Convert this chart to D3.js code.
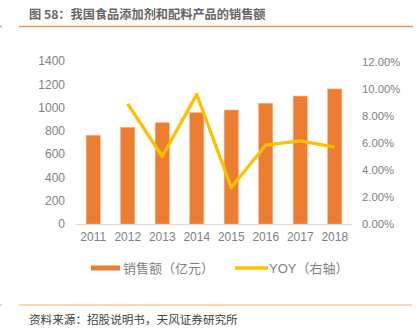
<!DOCTYPE html>
<html><head><meta charset="utf-8">
<script src="https://cdn.jsdelivr.net/npm/d3@7/dist/d3.min.js"></script>
<style>
body{margin:0;background:#fff;}
svg{display:block;font-family:"Liberation Sans","Noto Sans CJK SC",sans-serif;}
</style></head>
<body><svg id="c" width="417" height="329"></svg>
<script>
const years = ["2011","2012","2013","2014","2015","2016","2017","2018"];
const sales = [762, 830, 870, 956, 979, 1037, 1099, 1160];
const yoy = [null, 8.9, 5.0, 9.6, 2.7, 5.85, 6.15, 5.7];
const leftTicks = [0,200,400,600,800,1000,1200,1400];
const rightTicks = [0,2,4,6,8,10,12];
const titleText = "图 58：我国食品添加剂和配料产品的销售额";
const sourceText = "资料来源：招股说明书，天风证券研究所";
const legendLabels = ["销售额（亿元）","YOY（右轴）"];

const svg = d3.select("#c");
const cjk = '"Noto Sans CJK SC",sans-serif';

// header
svg.append("text").attr("x",29).attr("y",18.5).attr("font-size",12.2).attr("font-weight","bold")
  .attr("fill","#666666").attr("font-family",cjk).text(titleText);
svg.append("line").attr("x1",19).attr("x2",413).attr("y1",26.5).attr("y2",26.5)
  .attr("stroke","#E5994F").attr("stroke-width",1.5);
svg.append("line").attr("x1",0).attr("x2",2).attr("y1",26.5).attr("y2",26.5)
  .attr("stroke","#E5994F").attr("stroke-width",1.5);
// footer
svg.append("line").attr("x1",19).attr("x2",412).attr("y1",305).attr("y2",305)
  .attr("stroke","#F7C7A0").attr("stroke-width",1.5);
svg.append("line").attr("x1",0).attr("x2",2).attr("y1",305).attr("y2",305)
  .attr("stroke","#F7C7A0").attr("stroke-width",1.5);
svg.append("text").attr("x",29).attr("y",324).attr("font-size",11.6)
  .attr("fill","#404040").attr("font-family",cjk).text(sourceText);

const x = d3.scaleBand().domain(years).range([76,352]).paddingInner(0.59).paddingOuter(0.295);
const yL = d3.scaleLinear().domain([0,1400]).range([224,61]);
const yR = d3.scaleLinear().domain([0,12]).range([224,62]);

// left axis
const gl = svg.append("g").attr("transform","translate(68,0)")
  .call(d3.axisLeft(yL).tickValues(leftTicks).tickSize(0).tickPadding(3).tickFormat(d3.format("d")));
gl.select(".domain").remove();
gl.selectAll("text").attr("font-size",12).attr("fill","#7F7F7F").attr("font-family",'"Liberation Sans",sans-serif');

// right axis
const gr = svg.append("g").attr("transform","translate(359,0)")
  .call(d3.axisRight(yR).tickValues(rightTicks).tickSize(0).tickPadding(3).tickFormat(d=>d.toFixed(2)+"%"));
gr.select(".domain").remove();
gr.selectAll("text").attr("font-size",11.3).attr("fill","#7F7F7F").attr("font-family",'"Liberation Sans",sans-serif');

// bars
svg.append("g").selectAll("rect").data(years).join("rect")
  .attr("x",d=>x(d)).attr("width",x.bandwidth())
  .attr("y",(d,i)=>yL(sales[i])).attr("height",(d,i)=>yL(0)-yL(sales[i]))
  .attr("fill","#ED7D31").attr("stroke","#F4B183").attr("stroke-width",0.6);

// x axis
const gx = svg.append("g").attr("transform","translate(0,224)")
  .call(d3.axisBottom(x).tickSize(0).tickPadding(8));
gx.select(".domain").attr("stroke","#D9D9D9").attr("stroke-width",1.2);
gx.selectAll("text").attr("font-size",12).attr("fill","#7F7F7F").attr("font-family",'"Liberation Sans",sans-serif');

// line
const line = d3.line().defined(d=>d.v!=null)
  .x(d=>x(d.y)+x.bandwidth()/2).y(d=>yR(d.v));
svg.append("path").datum(years.map((y,i)=>({y:y,v:yoy[i]})))
  .attr("d",line).attr("fill","none").attr("stroke","#FFC000").attr("stroke-width",3.3)
  .attr("stroke-linejoin","round");

// legend
const lg = svg.append("g");
lg.append("rect").attr("x",91).attr("y",265.5).attr("width",29).attr("height",5).attr("fill","#ED7D31");
lg.append("text").attr("x",123).attr("y",272.5).attr("font-size",13).attr("fill","#7F7F7F")
  .attr("font-family",cjk).text(legendLabels[0]);
lg.append("line").attr("x1",235).attr("x2",268).attr("y1",268).attr("y2",268)
  .attr("stroke","#FFC000").attr("stroke-width",3.3);
lg.append("text").attr("x",269).attr("y",272.5).attr("font-size",13).attr("fill","#7F7F7F")
  .attr("font-family",'"Liberation Sans","Noto Sans CJK SC",sans-serif').text(legendLabels[1]);
</script></body></html>
